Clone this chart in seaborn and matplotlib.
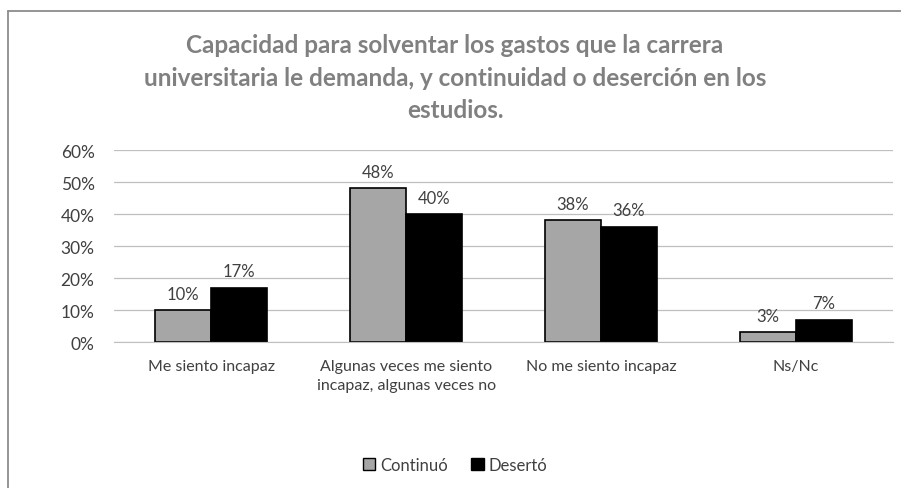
import pandas as pd
import matplotlib.pyplot as plt
import seaborn as sns
from matplotlib.lines import Line2D
from matplotlib.patches import Patch

# datos
categorias = ['Me siento incapaz',
              'Algunas veces me siento\nincapaz, algunas veces no',
              'No me siento incapaz',
              'Ns/Nc']
continuo = [10, 48, 38, 3]
deserto = [17, 40, 36, 7]
series = ['Continuó', 'Desertó']
colores = ['#a6a6a6', '#000000']

df = pd.DataFrame({
    'Categoria': categorias * 2,
    'Valor': continuo + deserto,
    'Grupo': [series[0]] * 4 + [series[1]] * 4,
})

sns.set_style('white')
plt.rcParams['font.family'] = ['Lato', 'DejaVu Sans']

fig = plt.figure(figsize=(9.01, 4.89), dpi=100)
ax = fig.add_axes([114 / 901, 1 - 343 / 489, 779 / 901, 192 / 489])

sns.barplot(data=df, x='Categoria', y='Valor', hue='Grupo', palette=colores,
            width=0.575, edgecolor='black', linewidth=1.2, ax=ax, legend=False)

for cont in ax.containers:
    ax.bar_label(cont, labels=[f'{v:.0f}%' for v in cont.datavalues],
                 padding=6, fontsize=12, color='#404040')

ax.set_ylim(0, 60)
ax.set_yticks(range(0, 61, 10))
ax.set_yticklabels([f'{t}%' for t in range(0, 61, 10)], fontsize=12.5, color='#404040')
ax.tick_params(axis='x', labelsize=11.5, labelcolor='#404040', length=0, pad=12)
ax.tick_params(axis='y', length=0, pad=14)
for lbl in ax.get_xticklabels():
    lbl.set_linespacing(1.45)
ax.yaxis.grid(True, color='#bfbfbf', linewidth=0.9)
ax.set_axisbelow(True)
ax.set_xlabel('')
ax.set_ylabel('')
for s in ['top', 'right', 'left']:
    ax.spines[s].set_visible(False)
ax.spines['bottom'].set_color('#bfbfbf')

fig.text(455 / 901, 1 - 78 / 489,
         'Capacidad para solventar los gastos que la carrera\n'
         'universitaria le demanda, y continuidad o deserción en los\n'
         'estudios.',
         ha='center', va='center', fontsize=17.5, fontweight='bold',
         color='#808080', linespacing=1.5)

handles = [Patch(facecolor=c, edgecolor='black', linewidth=1) for c in colores]
fig.legend(handles, series, loc='center', bbox_to_anchor=(455 / 901, 1 - 466 / 489),
           ncol=2, frameon=False, fontsize=12, handlelength=0.75, handleheight=0.75,
           handletextpad=0.3, columnspacing=1.4, labelcolor='#404040')

# marco exterior
fig.add_artist(Line2D([7.5 / 901, 7.5 / 901], [0, 1 - 11.5 / 489], color='#8c8c8c', linewidth=1.3))
fig.add_artist(Line2D([7.5 / 901, 1], [1 - 11.5 / 489, 1 - 11.5 / 489], color='#8c8c8c', linewidth=1.3))

plt.savefig('out.png', dpi=100)
